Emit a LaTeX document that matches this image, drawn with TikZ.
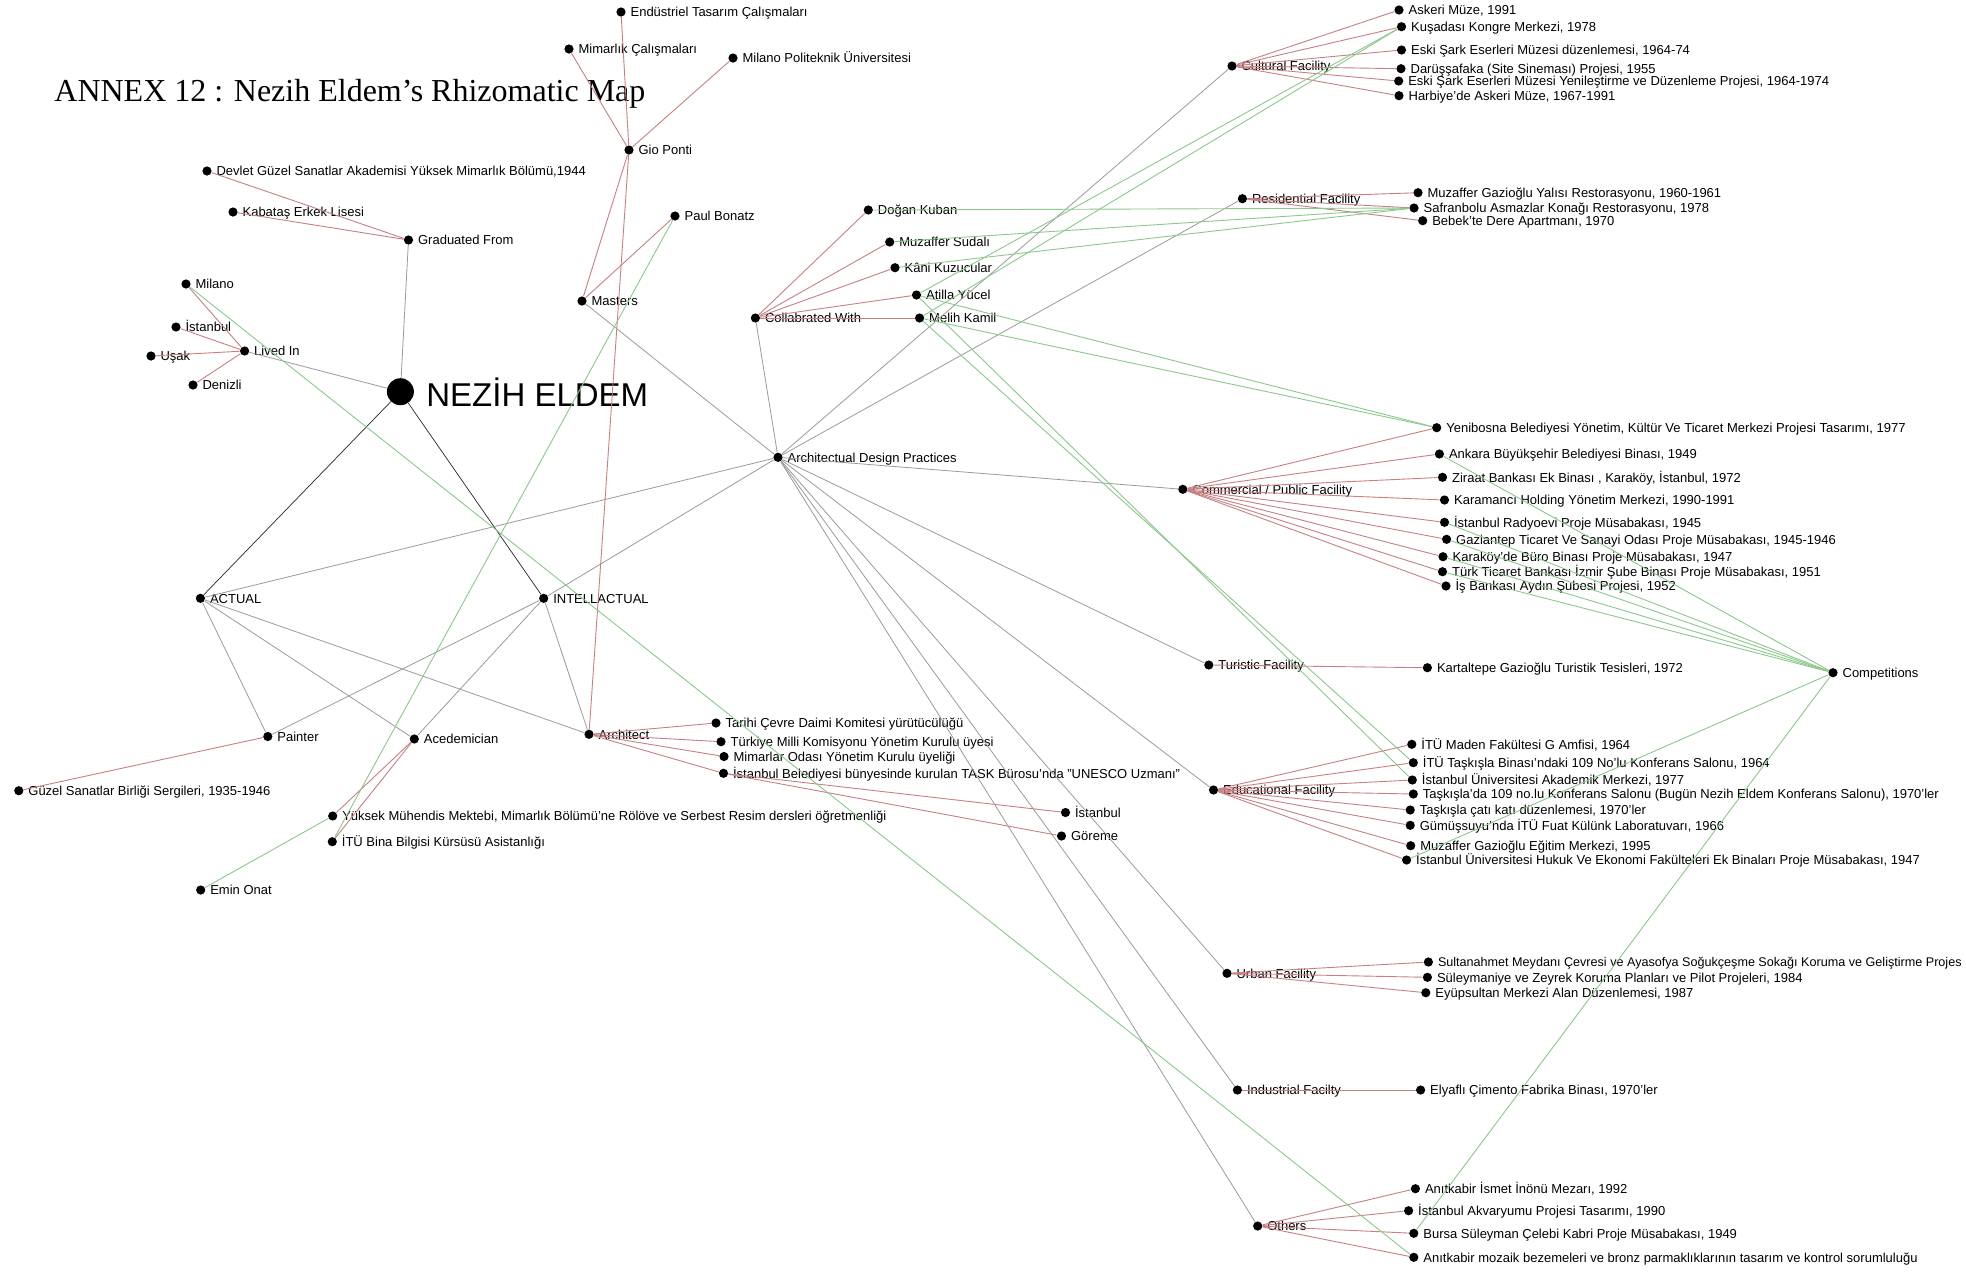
\documentclass[tikz,border=0pt]{standalone}
\usepackage{fontspec}
\setmainfont{Liberation Sans}
\newfontfamily\titlefont{Liberation Serif}
\usepackage{xcolor}
\usepackage{tikz}
\definecolor{treered}{RGB}{200,128,130}
\definecolor{linkgreen}{RGB}{140,200,140}
\definecolor{relgrey}{RGB}{155,155,155}
\newcommand{\lblfont}{\fontsize{6.5pt}{7pt}\selectfont}
\tikzset{
  dot/.style={circle, fill=black, inner sep=0pt, minimum size=4.6pt},
  lbl/.style={font=\lblfont, inner sep=0pt, text height=4.7pt, text depth=0pt},
  txt/.style={label={[lbl]right:{#1}}},
  root/.style={draw=black!85, line width=0.35pt},
  rel/.style={draw=relgrey, line width=0.4pt},
  tree/.style={draw=treered, line width=0.45pt},
  link/.style={draw=linkgreen, line width=0.45pt},
}

\begin{document}
\begin{tikzpicture}[x=0.5pt, y=-0.5pt, label distance=2.1pt]
  \useasboundingbox (0,0) rectangle (1966,1271);
  \clip (0,0) rectangle (1966,1271);
  \fill[white] (0,0) rectangle (1966,1271);

  \node[anchor=base west, font=\titlefont\fontsize{16pt}{19pt}\selectfont, inner sep=0pt]
    (title) at (54,101.7) {ANNEX 12 : Nezih Eldem’s Rhizomatic Map};

  % centre
  \node[dot, minimum size=13.5pt] (nezih) at (400.4,391.7) {};
  \node[anchor=base west, font=\fontsize{16.5pt}{20pt}\selectfont, inner sep=0pt]
    (nezihname) at (426,406.7) {NEZİH ELDEM};

  % education and places
  \node[dot, txt={Graduated From}] (grad) at (408.5,240) {};
  \node[dot, txt={Devlet Güzel Sanatlar Akademisi Yüksek Mimarlık Bölümü,1944}] (devlet) at (207,171) {};
  \node[dot, txt={Kabataş Erkek Lisesi}] (kabatas) at (233,212) {};
  \node[dot, txt={Lived In}] (lived) at (244.6,351) {};
  \node[dot, txt={Milano}]   (milano)  at (186,284) {};
  \node[dot, txt={İstanbul}] (istL)    at (176,327) {};
  \node[dot, txt={Uşak}]     (usak)    at (151,356) {};
  \node[dot, txt={Denizli}]  (denizli) at (193,385) {};

  % masters
  \node[dot, txt={Masters}]     (masters) at (582,301) {};
  \node[dot, txt={Gio Ponti}]   (ponti)   at (629,150) {};
  \node[dot, txt={Paul Bonatz}] (bonatz)  at (675,216) {};
  \node[dot, txt={Endüstriel Tasarım Çalışmaları}] (endus)  at (621,12) {};
  \node[dot, txt={Mimarlık Çalışmaları}]           (mimcal) at (569,49) {};
  \node[dot, txt={Milano Politeknik Üniversitesi}] (milpol) at (733,58) {};

  % two sides
  \node[dot, txt={ACTUAL}]       (actual) at (200.4,598.3) {};
  \node[dot, txt={INTELLACTUAL}] (intel)  at (543.7,598.3) {};

  % roles
  \node[dot, txt={Painter}]     (painter) at (267.8,736.5) {};
  \node[dot, txt={Acedemician}] (acad)    at (414.3,739) {};
  \node[dot, txt={Architect}]   (arch)    at (589,734.3) {};
  \node[dot, txt={Güzel Sanatlar Birliği Sergileri, 1935-1946}] (guzel) at (18.8,790.7) {};
  \node[dot, txt={Yüksek Mühendis Mektebi, Mimarlık Bölümü’ne Rölöve ve Serbest Resim dersleri öğretmenliği}] (yuksek) at (332.7,816) {};
  \node[dot, txt={İTÜ Bina Bilgisi Kürsüsü Asistanlığı}] (itubina) at (332.3,841.7) {};
  \node[dot, txt={Emin Onat}] (onat) at (200.7,890) {};
  \node[dot, txt={Tarihi Çevre Daimi Komitesi yürütücülüğü}]     (tarihi)  at (716,723) {};
  \node[dot, txt={Türkiye Milli Komisyonu Yönetim Kurulu üyesi}] (turkiye) at (721,741.7) {};
  \node[dot, txt={Mimarlar Odası Yönetim Kurulu üyeliği}]        (mimoda)  at (724,756.5) {};
  \node[dot, txt={İstanbul Belediyesi bünyesinde kurulan TASK Bürosu’nda "UNESCO Uzmanı"}] (task) at (723.5,773.3) {};
  \node[dot, txt={İstanbul}] (istM)   at (1065.5,812.5) {};
  \node[dot, txt={Göreme}]   (goreme) at (1061.5,836) {};

  % practice
  \node[dot, txt={Architectual Design Practices}] (adp) at (778,457.3) {};
  \node[dot, txt={Collabrated With}] (collab) at (755.4,318) {};
  \node[dot, txt={Doğan Kuban}]     (kuban)  at (868.3,210) {};
  \node[dot, txt={Muzaffer Sudalı}] (sudali) at (889.7,242) {};
  \node[dot, txt={Kâni Kuzucular}]  (kani)   at (895,267.7) {};
  \node[dot, txt={Atilla Yücel}]    (atilla) at (916.5,295) {};
  \node[dot, txt={Melih Kamil}]     (melih)  at (919.6,318) {};

  % facility types
  \node[dot, txt={Cultural Facility}]            (cult)   at (1232,66) {};
  \node[dot, txt={Residential Facility}]         (resid)  at (1242.4,198.7) {};
  \node[dot, txt={Commercial / Public Facility}] (comm)   at (1182.8,489.3) {};
  \node[dot, txt={Turistic Facility}]            (turist) at (1208.8,665) {};
  \node[dot, txt={Educational Facility}]         (edu)    at (1213.5,790) {};
  \node[dot, txt={Urban Facility}]               (urban)  at (1227,973.3) {};
  \node[dot, txt={Industrial Facilty}]           (indus)  at (1237.4,1090) {};
  \node[dot, txt={Others}]                       (others) at (1257.7,1226) {};
  \node[dot, txt={Competitions}]                 (comp)   at (1833,672.7) {};

  % cultural
  \node[dot, txt={Askeri Müze, 1991}]                              (c1) at (1399,10) {};
  \node[dot, txt={Kuşadası Kongre Merkezi, 1978}]                  (c2) at (1401.5,26.7) {};
  \node[dot, txt={Eski Şark Eserleri Müzesi düzenlemesi, 1964-74}] (c3) at (1401.5,50) {};
  \node[dot, txt={Darüşşafaka (Site Sineması) Projesi, 1955}]      (c4) at (1401,68.7) {};
  \node[dot, txt={Eski Şark Eserleri Müzesi Yenileştirme ve Düzenleme Projesi, 1964-1974}] (c5) at (1398.7,81) {};
  \node[dot, txt={Harbiye’de Askeri Müze, 1967-1991}]              (c6) at (1399,95.7) {};

  % residential
  \node[dot, txt={Muzaffer Gazioğlu Yalısı Restorasyonu, 1960-1961}] (r1) at (1418,192.7) {};
  \node[dot, txt={Safranbolu Asmazlar Konağı Restorasyonu, 1978}]    (r2) at (1414,208) {};
  \node[dot, txt={Bebek’te Dere Apartmanı, 1970}]                    (r3) at (1422.7,220.7) {};

  % commercial / public
  \node[dot, txt={Yenibosna Belediyesi Yönetim, Kültür Ve Ticaret Merkezi Projesi Tasarımı, 1977}] (m1) at (1436.7,427.7) {};
  \node[dot, txt={Ankara Büyükşehir Belediyesi Binası, 1949}]         (m2) at (1439.4,454) {};
  \node[dot, txt={Ziraat Bankası Ek Binası , Karaköy, İstanbul, 1972}] (m3) at (1442.5,477.3) {};
  \node[dot, txt={Karamancı Holding Yönetim Merkezi, 1990-1991}]      (m4) at (1444.5,500) {};
  \node[dot, txt={İstanbul Radyoevi Proje Müsabakası, 1945}]          (m5) at (1444.5,522.3) {};
  \node[dot, txt={Gaziantep Ticaret Ve Sanayi Odası Proje Müsabakası, 1945-1946}] (m6) at (1446.6,539.3) {};
  \node[dot, txt={Karaköy’de Büro Binası Proje Müsabakası, 1947}]     (m7) at (1443,556.7) {};
  \node[dot, txt={Türk Ticaret Bankası İzmir Şube Binası Proje Müsabakası, 1951}] (m8) at (1442.5,571.7) {};
  \node[dot, txt={İş Bankası Aydın Şubesi Projesi, 1952}]             (m9) at (1446,586) {};

  % turistic
  \node[dot, txt={Kartaltepe Gazioğlu Turistik Tesisleri, 1972}] (t1) at (1427.4,667.7) {};

  % educational
  \node[dot, txt={İTÜ Maden Fakültesi G Amfisi, 1964}]                       (e1) at (1411.8,744.3) {};
  \node[dot, txt={İTÜ Taşkışla Binası’ndaki 109 No’lu Konferans Salonu, 1964}] (e2) at (1413.3,762.7) {};
  \node[dot, txt={İstanbul Üniversitesi Akademik Merkezi, 1977}]             (e3) at (1412.3,780) {};
  \node[dot, txt={Taşkışla’da 109 no.lu Konferans Salonu (Bugün Nezih Eldem Konferans Salonu), 1970’ler}] (e4) at (1413.3,794) {};
  \node[dot, txt={Taşkışla çatı katı düzenlemesi, 1970’ler}]                 (e5) at (1410.2,810) {};
  \node[dot, txt={Gümüşsuyu’nda İTÜ Fuat Külünk Laboratuvarı, 1966}]         (e6) at (1410.2,825.3) {};
  \node[dot, txt={Muzaffer Gazioğlu Eğitim Merkezi, 1995}]                   (e7) at (1410.7,845.7) {};
  \node[dot, txt={İstanbul Üniversitesi Hukuk Ve Ekonomi Fakülteleri Ek Binaları Proje Müsabakası, 1947}] (e8) at (1406.6,860) {};

  % urban (first title set a touch smaller so it stays on the page)
  \node[dot, label={[lbl, font=\fontsize{6.3pt}{7pt}\selectfont]right:{Sultanahmet Meydanı Çevresi ve Ayasofya Soğukçeşme Sokağı Koruma ve Geliştirme Projes}}] (u1) at (1428.4,962) {};
  \node[dot, txt={Süleymaniye ve Zeyrek Koruma Planları ve Pilot Projeleri, 1984}] (u2) at (1427.4,977.3) {};
  \node[dot, txt={Eyüpsultan Merkezi Alan Düzenlemesi, 1987}]                     (u3) at (1425.8,992.7) {};

  % industrial
  \node[dot, txt={Elyaflı Çimento Fabrika Binası, 1970’ler}] (i1) at (1420.6,1090) {};

  % others
  \node[dot, txt={Anıtkabir İsmet İnönü Mezarı, 1992}]              (o1) at (1415.4,1188.7) {};
  \node[dot, txt={İstanbul Akvaryumu Projesi Tasarımı, 1990}]       (o2) at (1408.6,1210.7) {};
  \node[dot, txt={Bursa Süleyman Çelebi Kabri Proje Müsabakası, 1949}] (o3) at (1413.8,1233.3) {};
  \node[dot, txt={Anıtkabir mozaik bezemeleri ve bronz parmaklıklarının tasarım ve kontrol sorumluluğu}] (o4) at (1413.8,1257.3) {};

  % Edges: centre
  \draw[root] (nezih) -- (actual);
  \draw[root] (nezih) -- (intel);
  \draw[rel]  (grad)  -- (nezih);
  \draw[rel]  (lived) -- (nezih);

  % Edges: sides to roles and practice
  \draw[rel] (actual) -- (painter);
  \draw[rel] (actual) -- (acad);
  \draw[rel] (actual) -- (arch);
  \draw[rel] (actual) -- (adp);
  \draw[rel] (intel)  -- (painter);
  \draw[rel] (intel)  -- (acad);
  \draw[rel] (intel)  -- (arch);
  \draw[rel] (intel)  -- (adp);
  \draw[rel] (masters) -- (adp);
  \draw[rel] (collab)  -- (adp);

  % Edges: practice to facility types
  \draw[rel] (adp) -- (cult);
  \draw[rel] (adp) -- (resid);
  \draw[rel] (adp) -- (comm);
  \draw[rel] (adp) -- (turist);
  \draw[rel] (adp) -- (edu);
  \draw[rel] (adp) -- (urban);
  \draw[rel] (adp) -- (indus);
  \draw[rel] (adp) -- (others);

  % Edges: branches
  \draw[tree] (grad)  -- (devlet);
  \draw[tree] (grad)  -- (kabatas);
  \draw[tree] (lived) -- (milano);
  \draw[tree] (lived) -- (istL);
  \draw[tree] (lived) -- (usak);
  \draw[tree] (lived) -- (denizli);
  \draw[tree] (masters) -- (ponti);
  \draw[tree] (masters) -- (bonatz);
  \draw[tree] (ponti) -- (endus);
  \draw[tree] (ponti) -- (mimcal);
  \draw[tree] (ponti) -- (milpol);
  \draw[tree] (ponti) -- (arch);
  \draw[tree] (painter) -- (guzel);
  \draw[tree] (acad) -- (yuksek);
  \draw[tree] (acad) -- (itubina);
  \draw[tree] (arch) -- (tarihi);
  \draw[tree] (arch) -- (turkiye);
  \draw[tree] (arch) -- (mimoda);
  \draw[tree] (arch) -- (task);
  \draw[tree] (task) -- (istM);
  \draw[tree] (task) -- (goreme);
  \draw[tree] (collab) -- (kuban);
  \draw[tree] (collab) -- (sudali);
  \draw[tree] (collab) -- (kani);
  \draw[tree] (collab) -- (atilla);
  \draw[tree] (collab) -- (melih);

  % Edges: facility types to works
  \draw[tree] (cult) -- (c1);
  \draw[tree] (cult) -- (c2);
  \draw[tree] (cult) -- (c3);
  \draw[tree] (cult) -- (c4);
  \draw[tree] (cult) -- (c5);
  \draw[tree] (cult) -- (c6);
  \draw[tree] (resid) -- (r1);
  \draw[tree] (resid) -- (r2);
  \draw[tree] (resid) -- (r3);
  \draw[tree] (comm) -- (m1);
  \draw[tree] (comm) -- (m2);
  \draw[tree] (comm) -- (m3);
  \draw[tree] (comm) -- (m4);
  \draw[tree] (comm) -- (m5);
  \draw[tree] (comm) -- (m6);
  \draw[tree] (comm) -- (m7);
  \draw[tree] (comm) -- (m8);
  \draw[tree] (comm) -- (m9);
  \draw[tree] (turist) -- (t1);
  \draw[tree] (edu) -- (e1);
  \draw[tree] (edu) -- (e2);
  \draw[tree] (edu) -- (e3);
  \draw[tree] (edu) -- (e4);
  \draw[tree] (edu) -- (e5);
  \draw[tree] (edu) -- (e6);
  \draw[tree] (edu) -- (e7);
  \draw[tree] (edu) -- (e8);
  \draw[tree] (urban) -- (u1);
  \draw[tree] (urban) -- (u2);
  \draw[tree] (urban) -- (u3);
  \draw[tree] (indus) -- (i1);
  \draw[tree] (others) -- (o1);
  \draw[tree] (others) -- (o2);
  \draw[tree] (others) -- (o3);
  \draw[tree] (others) -- (o4);

  % Cross links
  \draw[link] (milano) -- (o4);
  \draw[link] (bonatz) -- (itubina);
  \draw[link] (onat)   -- (yuksek);
  \draw[link] (kuban)  -- (r2);
  \draw[link] (sudali) -- (r2);
  \draw[link] (kani)   -- (r2);
  \draw[link] (atilla) -- (c2);
  \draw[link] (melih)  -- (c2);
  \draw[link] (atilla) -- (m1);
  \draw[link] (melih)  -- (m1);
  \draw[link] (atilla) -- (e3);
  \draw[link] (melih)  -- (e2);
  \draw[link] (comp) -- (m2);
  \draw[link] (comp) -- (m5);
  \draw[link] (comp) -- (m6);
  \draw[link] (comp) -- (m7);
  \draw[link] (comp) -- (m8);
  \draw[link] (comp) -- (e8);
  \draw[link] (comp) -- (o3);
\end{tikzpicture}
\end{document}
